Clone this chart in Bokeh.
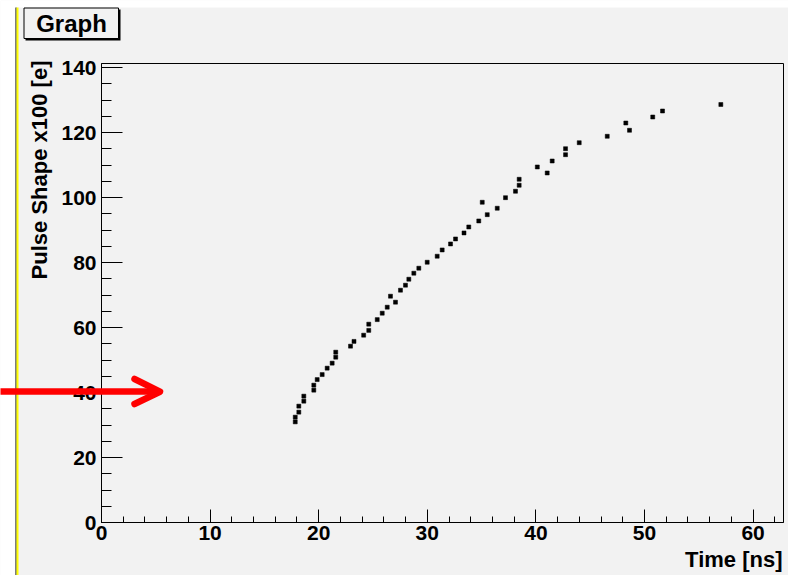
from bokeh.plotting import figure
from bokeh.models import Range1d, SingleIntervalTicker, Label, GridBox
from bokeh.embed import file_html
from bokeh.resources import INLINE

# ---- data ----
time_ns = [17.84, 17.84, 18.17, 18.17, 18.63, 18.63, 19.55, 19.55, 19.86, 20.32,
           20.78, 21.24, 21.57, 21.57, 22.93, 23.25, 24.14, 24.61, 24.61, 25.39,
           25.85, 26.31, 26.61, 27.07, 27.53, 27.99, 28.30, 28.76, 29.22, 29.99,
           30.91, 31.37, 32.14, 32.60, 33.38, 33.82, 34.74, 35.06, 35.52, 36.44,
           37.20, 38.12, 38.46, 38.46, 40.13, 41.04, 41.50, 42.73, 42.73, 43.99,
           46.57, 48.28, 48.62, 50.76, 51.66, 57.03]
pulse_shape = [30.98, 32.43, 33.97, 35.82, 37.35, 38.89, 40.74, 42.28, 44.00, 45.54,
               47.51, 49.05, 50.89, 52.43, 54.28, 55.75, 57.66, 59.14, 61.05, 62.46,
               64.43, 66.28, 69.66, 67.82, 71.51, 73.05, 74.89, 76.74, 78.28, 80.12,
               81.97, 83.91, 85.75, 87.29, 89.14, 90.98, 92.83, 98.58, 94.77, 96.74,
               100.00, 101.97, 103.82, 105.66, 109.45, 107.60, 111.29, 113.23, 115.08, 116.92,
               118.89, 122.98, 120.74, 124.83, 126.68, 128.68]
title_text = "Graph"
x_label = "Time [ns]"
y_label = "Pulse Shape x100 [e]"
x_limits = [0, 62.8]
y_limits = [0, 141.3]

# ---- layout / style ----
W, H = 788, 575
L, R, T, B = 101, 5, 63, 53
GRAY = "#f2f2f2"
RED = "#ff0000"
FONT = "Liberation Sans"

# main plot: data, frame and axes
p = figure(width=W, height=H, title=None,
           x_range=Range1d(*x_limits), y_range=Range1d(*y_limits),
           output_backend="svg", toolbar_location=None,
           min_border_left=L, min_border_right=R, min_border_top=T, min_border_bottom=B,
           background_fill_color=GRAY, border_fill_color=GRAY,
           outline_line_color="black", outline_line_width=1)
p.frame_align = False

p.xgrid.visible = False
p.ygrid.visible = False

p.xaxis.ticker = SingleIntervalTicker(interval=10, num_minor_ticks=5)
p.yaxis.ticker = SingleIntervalTicker(interval=20, num_minor_ticks=4)

for ax in (p.xaxis, p.yaxis):
    ax.axis_line_color = "black"
    ax.axis_line_width = 1
    ax.major_tick_line_color = "black"
    ax.minor_tick_line_color = "black"
    ax.major_tick_out = 0
    ax.minor_tick_out = 0
    ax.major_label_text_font = FONT
    ax.major_label_text_font_style = "bold"
    ax.major_label_text_font_size = "21px"
    ax.major_label_text_color = "black"

p.xaxis.major_tick_in = 13
p.xaxis.minor_tick_in = 6
p.xaxis.major_label_standoff = 3
p.yaxis.major_tick_in = 21
p.yaxis.minor_tick_in = 10
p.yaxis.major_label_standoff = 5

p.scatter(time_ns, pulse_shape, marker="square", size=4,
          fill_color="black", line_color="black", line_width=0.5)

# overlay in canvas pixel coordinates for the ROOT canvas decorations and texts
ov = figure(width=W, height=H, title=None,
            x_range=Range1d(0, W), y_range=Range1d(H, 0),
            x_axis_type=None, y_axis_type=None,
            output_backend="svg", toolbar_location=None, min_border=0,
            background_fill_alpha=0, border_fill_alpha=0, outline_line_color=None)
ov.frame_align = False

# white margins, black + yellow edge line
ov.quad(left=0, right=15, top=0, bottom=H, fill_color="white", line_color=None)
ov.quad(left=0, right=W, top=0, bottom=7, fill_color="white", line_color=None)
ov.quad(left=15, right=16, top=7, bottom=H, fill_color="black", line_color=None)
ov.quad(left=16, right=18, top=7, bottom=H, fill_color="#ffff00", line_color=None)

# title box with shadow
ov.quad(left=25, right=120, top=9, bottom=40, fill_color="black", line_color=None)
ov.quad(left=23.5, right=118, top=7.5, bottom=38, fill_color=GRAY,
        line_color="black", line_width=1)
ov.add_layout(Label(x=71, y=22.5, text=title_text,
                    text_font=FONT, text_font_style="bold", text_font_size="24px",
                    text_color="black", text_align="center", text_baseline="middle"))

# axis titles, ROOT style (aligned to the axis end)
ov.add_layout(Label(x=782, y=559, text=x_label,
                    text_font=FONT, text_font_style="bold", text_font_size="22px",
                    text_color="black", text_align="right", text_baseline="middle"))
ov.add_layout(Label(x=39, y=60, text=y_label, angle=90, angle_units="deg",
                    text_font=FONT, text_font_style="bold", text_font_size="22px",
                    text_color="black", text_align="right", text_baseline="middle"))

# red arrow
ov.line([-5, 156], [391, 391], line_color=RED, line_width=6.5)
ov.line([134, 159.5, 134], [378.5, 391.2, 403.5], line_color=RED, line_width=6.5,
        line_join="round", line_cap="round")

layout = GridBox(children=[(p, 0, 0), (ov, 0, 0)])

open("out.html", "w").write(file_html(layout, INLINE))
